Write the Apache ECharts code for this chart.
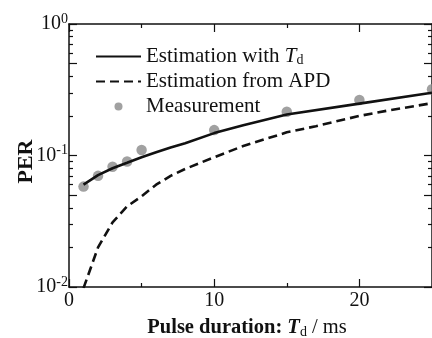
<!DOCTYPE html>
<html>
<head>
<meta charset="utf-8">
<script src="https://cdn.jsdelivr.net/npm/echarts@6/dist/echarts.min.js"></script>
<style>
html,body{margin:0;padding:0;background:#fff;}
#c{width:432px;height:338px;}
</style>
</head>
<body>
<div id="c"></div>
<script>
// ---- data ----
var solidX = [1, 2, 3, 4, 5, 6, 7, 8, 10, 12, 15, 20, 25];
var solidY = [0.060, 0.071, 0.080, 0.088, 0.097, 0.106, 0.115, 0.124, 0.148, 0.170, 0.205, 0.248, 0.300];
var dashX = [1, 2, 3, 4, 5, 6, 7, 8, 10, 12, 15, 17, 20, 22, 25];
var dashY = [0.0098, 0.020, 0.031, 0.041, 0.049, 0.060, 0.070, 0.079, 0.097, 0.118, 0.150, 0.167, 0.200, 0.220, 0.250];
var measX = [1, 2, 3, 4, 5, 10, 15, 20, 25];
var measY = [0.058, 0.070, 0.082, 0.090, 0.110, 0.156, 0.215, 0.264, 0.319];
var xMajorTicks = [0, 10, 20];
var xMinorTicks = [5, 15];
var yMajorTicks = [0.01, 0.1, 1];
var yMidTicks = [0.05, 0.5];
var yMinorTicks = [0.02, 0.03, 0.04, 0.06, 0.07, 0.08, 0.09, 0.2, 0.3, 0.4, 0.6, 0.7, 0.8, 0.9];
var seriesNames = ['Estimation with Td', 'Estimation from APD', 'Measurement'];

function zip(a, b) { return a.map(function (v, i) { return [v, b[i]]; }); }

var FONT = "'Liberation Serif', 'Times New Roman', serif";
var BLACK = '#111';

function xAx(pos, ticks, len, showLine, showLabel) {
  return {
    type: 'value', position: pos, min: 0, max: 25, interval: 5,
    axisLine: { show: showLine, onZero: false, lineStyle: { color: BLACK, width: 1.5 } },
    axisTick: { show: true, inside: true, length: len, customValues: ticks, lineStyle: { color: BLACK, width: 1.2 } },
    axisLabel: showLabel ? { show: true, customValues: xMajorTicks, color: BLACK, fontFamily: FONT, fontSize: 20, margin: 4 } : { show: false },
    splitLine: { show: false }
  };
}
function yAx(pos, ticks, len, showLine, showLabel) {
  return {
    type: 'log', logBase: 10, position: pos, min: 0.01, max: 1,
    axisLine: { show: showLine, onZero: false, lineStyle: { color: BLACK, width: 1.5 } },
    axisTick: { show: true, inside: true, length: len, customValues: ticks, lineStyle: { color: BLACK, width: 1.2 } },
    axisLabel: showLabel ? {
      show: true, margin: 1, customValues: yMajorTicks,
      formatter: function (v) {
        var e = Math.round(Math.log10(v));
        return '{b|10}{s|' + (e === 0 ? '0' : String(e)) + '}';
      },
      rich: {
        b: { fontFamily: FONT, fontSize: 20, color: BLACK },
        s: { fontFamily: FONT, fontSize: 14, color: BLACK, verticalAlign: 'top', padding: [0, 0, 10, 0] }
      }
    } : { show: false },
    splitLine: { show: false }
  };
}

var chart = echarts.init(document.getElementById('c'), null, { renderer: 'canvas' });
var option = {
  animation: false,
  backgroundColor: '#fff',
  grid: { left: 69, right: 0, top: 24, bottom: 51, containLabel: false, outerBoundsMode: 'none' },
  legend: {
    orient: 'vertical', left: 95, top: 46, padding: 0,
    itemWidth: 45, itemHeight: 8, itemGap: 4,
    data: [
      { name: seriesNames[0], itemStyle: { opacity: 0 } },
      { name: seriesNames[1], itemStyle: { opacity: 0 } },
      { name: seriesNames[2] }
    ],
    formatter: function (n) {
      if (n === 'Estimation with Td') return 'Estimation with {i|T}{sub|d}';
      return n;
    },
    textStyle: {
      fontFamily: FONT, fontSize: 21, color: BLACK, lineHeight: 21,
      rich: {
        i: { fontFamily: FONT, fontSize: 21, fontStyle: 'italic', color: BLACK },
        sub: { fontFamily: FONT, fontSize: 14, color: BLACK, verticalAlign: 'bottom', padding: [8, 0, 0, 0] }
      }
    }
  },
  xAxis: [
    Object.assign(xAx('bottom', xMajorTicks, 8, true, true), {
      name: '{b|Pulse duration: }{bi|T}{sub|d}{r| / ms}',
      nameLocation: 'middle', nameGap: 29,
      nameTextStyle: {
        padding: [0, 7, 0, 0],
        rich: {
          b: { fontFamily: FONT, fontSize: 20.5, fontWeight: 'bold', color: BLACK },
          bi: { fontFamily: FONT, fontSize: 20.5, fontWeight: 'bold', fontStyle: 'italic', color: BLACK },
          sub: { fontFamily: FONT, fontSize: 14, color: BLACK, verticalAlign: 'bottom', padding: [9, 0, 0, 0] },
          r: { fontFamily: FONT, fontSize: 20.5, color: BLACK }
        }
      }
    }),
    xAx('bottom', xMinorTicks, 4, false, false),
    xAx('top', xMajorTicks, 8, true, false),
    xAx('top', xMinorTicks, 4, false, false)
  ],
  yAxis: [
    Object.assign(yAx('left', yMajorTicks, 8, true, true), {
      name: 'PER', nameLocation: 'middle', nameGap: 32, nameRotate: 90, nameMoveOverlap: false,
      nameTextStyle: { fontFamily: FONT, fontSize: 22, fontWeight: 'bold', color: BLACK, padding: [0, 12, 0, 0] }
    }),
    yAx('left', yMidTicks, 8, false, false),
    yAx('left', yMinorTicks, 4, false, false),
    yAx('right', yMajorTicks, 8, true, false),
    yAx('right', yMidTicks, 8, false, false),
    yAx('right', yMinorTicks, 4, false, false)
  ],
  series: [
    {
      name: seriesNames[0], type: 'line', xAxisIndex: 0, yAxisIndex: 0,
      data: zip(solidX, solidY), symbol: 'none', clip: true,
      lineStyle: { color: BLACK, width: 2.6, type: 'solid' },
      itemStyle: { color: BLACK }
    },
    {
      name: seriesNames[1], type: 'line', xAxisIndex: 0, yAxisIndex: 0,
      data: zip(dashX, dashY), symbol: 'none', clip: true,
      lineStyle: { color: BLACK, width: 2.6, type: [9, 5] },
      itemStyle: { color: BLACK }
    },
    {
      name: seriesNames[2], type: 'scatter', xAxisIndex: 0, yAxisIndex: 0,
      data: zip(measX, measY), symbol: 'circle', symbolSize: 10.5, clip: false,
      itemStyle: { color: '#8a8a8a' }
    }
  ]
};
chart.setOption(option);
</script>
</body>
</html>
